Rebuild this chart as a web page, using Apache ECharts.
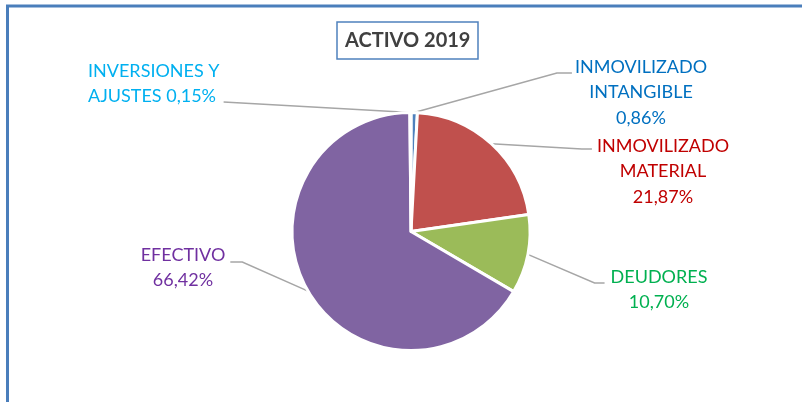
<!DOCTYPE html>
<html>
<head>
<meta charset="utf-8">
<script src="https://cdn.jsdelivr.net/npm/echarts@6/dist/echarts.min.js"></script>
<style>
html,body{margin:0;padding:0;background:#fff;}
#chart{width:802px;height:402px;}
</style>
</head>
<body>
<div id="chart"></div>
<script>
// ---- data ----
const categories = ['INMOVILIZADO INTANGIBLE', 'INMOVILIZADO MATERIAL', 'DEUDORES', 'EFECTIVO', 'INVERSIONES Y AJUSTES'];
const values = [0.86, 21.87, 10.70, 66.42, 0.15];
const labelTemplates = ['INMOVILIZADO\nINTANGIBLE\n{v}', 'INMOVILIZADO\nMATERIAL\n{v}', 'DEUDORES\n{v}', 'EFECTIVO\n{v}', 'INVERSIONES Y\nAJUSTES {v}'];
const titleText = 'ACTIVO 2019';

// ---- styles / layout ----
const sliceColors = ['#4F81BD', '#C0504D', '#9BBB59', '#8064A2', '#4BACC6'];
const labelColors = ['#0070C0', '#C00000', '#00B050', '#7030A0', '#00B0F0'];
const LH = 25.5;
const labelAnchors = [
  {x: 641, y: 54,  align: 'center', side: 'right', lineY: 19, gap: 3, elbow: 15},
  {x: 663, y: 133, align: 'center', side: 'right', lineY: 16, gap: 5, elbow: 10},
  {x: 659, y: 264, align: 'center', side: 'right', lineY: 19, gap: 6, elbow: 10},
  {x: 183, y: 242, align: 'center', side: 'left',  lineY: 20, gap: 5, elbow: 12},
  {x: 88,  y: 58,  align: 'left',   side: 'left',  lineY: 44, gap: 4, elbow: 0}
];

const fmt = v => v.toFixed(2).replace('.', ',') + '%';

const chart = echarts.init(document.getElementById('chart'), null, {renderer: 'canvas'});

const option = {
  backgroundColor: '#ffffff',
  animation: false,
  graphic: [{
    type: 'rect',
    shape: {x: 7.5, y: 6, width: 1000, height: 1000},
    style: {fill: 'none', stroke: '#4A7EBB', lineWidth: 3},
    silent: true
  }],
  title: {
    text: titleText,
    left: 337,
    top: 22,
    padding: [7, 8],
    borderColor: '#4F81BD',
    borderWidth: 1.5,
    textStyle: {fontFamily: 'Lato', fontWeight: 'bold', fontSize: 20, lineHeight: 23, color: '#404040'}
  },
  series: [{
    type: 'pie',
    center: [411, 231.5],
    radius: 119,
    startAngle: 90,
    clockwise: true,
    avoidLabelOverlap: false,
    itemStyle: {borderColor: '#ffffff', borderWidth: 3},
    label: {
      show: true,
      position: 'outside',
      fontFamily: 'Lato',
      fontSize: 18,
      lineHeight: LH,
      formatter: p => labelTemplates[p.dataIndex].replace('{v}', fmt(p.value))
    },
    labelLine: {show: true, length: 10, length2: 10, smooth: false, lineStyle: {color: '#A6A6A6', width: 1.5}},
    labelLayout: function (params) {
      const a = labelAnchors[params.dataIndex];
      const w = params.labelRect.width;
      const left = a.align === 'center' ? a.x - w / 2 : a.x;
      const right = left + w;
      const ly = a.y + a.lineY;
      const p0 = params.labelLinePoints ? params.labelLinePoints[0] : [0, 0];
      let end, elbow;
      if (a.side === 'right') {
        end = [left - a.gap, ly];
        elbow = [left - a.gap - a.elbow, ly];
      } else {
        end = [right + a.gap, ly];
        elbow = [right + a.gap + a.elbow, ly];
      }
      return {
        x: a.x,
        y: a.y,
        align: a.align,
        verticalAlign: 'top',
        labelLinePoints: [p0, elbow, end]
      };
    },
    data: categories.map((c, i) => ({
      name: c,
      value: values[i],
      itemStyle: {color: sliceColors[i]},
      label: {color: labelColors[i], align: labelAnchors[i].align}
    }))
  }]
};
chart.setOption(option);
</script>
</body>
</html>
